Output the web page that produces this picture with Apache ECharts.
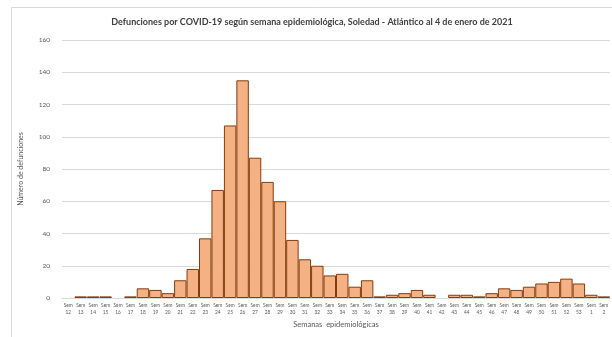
<!DOCTYPE html>
<html>
<head>
<meta charset="utf-8">
<script src="https://cdn.jsdelivr.net/npm/echarts@6/dist/echarts.min.js"></script>
<style>
  html, body { margin: 0; padding: 0; background: #fff; }
  #chart { width: 612px; height: 337px; }
</style>
</head>
<body>
<div id="chart"></div>
<script>
// semanas epidemiológicas (2020 -> 2021)
const weeks = [12, 13, 14, 15, 16, 17, 18, 19, 20, 21, 22, 23, 24, 25, 26, 27, 28, 29, 30, 31, 32,
  33, 34, 35, 36, 37, 38, 39, 40, 41, 42, 43, 44, 45, 46, 47, 48, 49, 50, 51, 52, 53, 1, 2]
const deaths = [0, 1, 1, 1, 0, 1, 6, 5, 3, 11, 18, 37, 67, 107, 135, 87, 72, 60, 36, 24, 20,
  14, 15, 7, 11, 1, 2, 3, 5, 2, 0, 2, 2, 1, 3, 6, 5, 7, 9, 10, 12, 9, 2, 1]
const yTicks = { min: 0, max: 160, interval: 20 }

const categories = weeks.map(w => 'Sem\n' + w)
// semanas sin defunciones: sin borde
const barData = deaths.map(v => (v === 0 ? { value: v, itemStyle: { borderWidth: 0 } } : v))

const chart = echarts.init(document.getElementById('chart'), null, { renderer: 'canvas' })

chart.setOption({
  backgroundColor: '#fff',
  animation: false,
  graphic: [
    {
      type: 'rect',
      shape: { x: 11.5, y: 7.5, width: 620, height: 340 },
      style: { fill: 'none', stroke: '#d9d9d9', lineWidth: 1 },
      silent: true
    }
  ],
  title: {
    text: 'Defunciones por COVID-19 según semana epidemiológica, Soledad - Atlántico al 4 de enero de 2021',
    left: 307,
    textAlign: 'center',
    top: 13,
    textStyle: { fontFamily: 'Lato', fontSize: 9, fontWeight: 'bold', color: '#404040' }
  },
  grid: { left: 62, right: 2, top: 40, bottom: 39 },
  xAxis: {
    type: 'category',
    data: categories,
    name: 'Semanas  epidemiológicas',
    nameLocation: 'middle',
    nameGap: 22,
    nameTextStyle: { fontFamily: 'Lato', fontSize: 7.5, color: '#595959' },
    axisLine: { lineStyle: { color: '#d9d9d9' } },
    axisTick: { show: false },
    axisLabel: {
      interval: 0,
      fontFamily: 'Lato',
      fontSize: 4.8,
      lineHeight: 7,
      color: '#595959',
      margin: 4
    }
  },
  yAxis: {
    type: 'value',
    min: yTicks.min,
    max: yTicks.max,
    interval: yTicks.interval,
    name: 'Número de defunciones',
    nameLocation: 'middle',
    nameGap: 38,
    nameTextStyle: { fontFamily: 'Lato', fontSize: 7, color: '#595959' },
    axisLine: { show: false },
    axisTick: { show: false },
    axisLabel: { fontFamily: 'Lato', fontSize: 6.5, color: '#595959', margin: 12 },
    splitLine: { lineStyle: { color: '#d9d9d9', width: 1 } }
  },
  series: [
    {
      type: 'bar',
      data: barData,
      barCategoryGap: '0%',
      itemStyle: {
        color: '#f4b183',
        borderColor: '#843c0c',
        borderWidth: 1
      }
    }
  ]
})
</script>
</body>
</html>
